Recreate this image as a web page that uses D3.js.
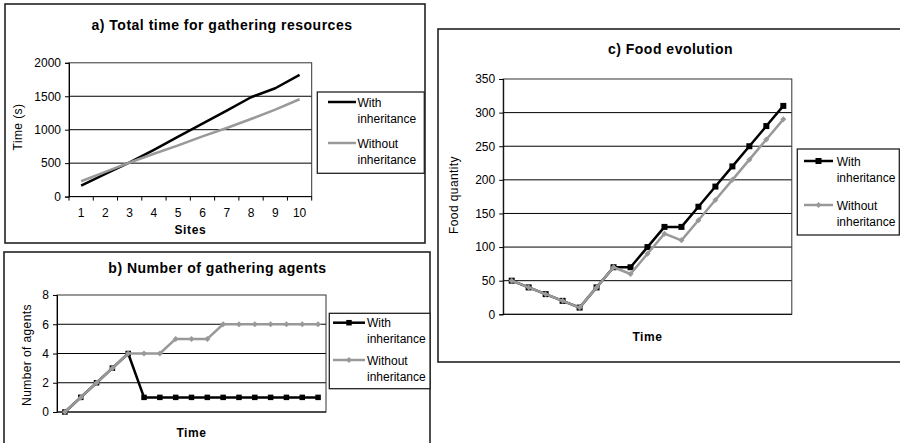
<!DOCTYPE html>
<html>
<head>
<meta charset="utf-8">
<script src="https://cdn.jsdelivr.net/npm/d3@7"></script>
<style>
    body { margin: 0; background: #fff; }
    svg { display: block; font-family: "Liberation Sans", Arial, sans-serif; }
</style>
</head>
<body>
<svg id="chart" width="900" height="443"></svg>
<script>
// a) Total time for gathering resources
const sites = [1, 2, 3, 4, 5, 6, 7, 8, 9, 10];
const timeWith = [165, 340, 510, 700, 895, 1090, 1285, 1485, 1620, 1820];
const timeWithout = [230, 370, 510, 640, 765, 900, 1025, 1160, 1300, 1455];
const timeTicks = [0, 500, 1000, 1500, 2000];

// b) Number of gathering agents
const agentSteps = [1, 2, 3, 4, 5, 6, 7, 8, 9, 10, 11, 12, 13, 14, 15, 16, 17];
const agentsWith = [0, 1, 2, 3, 4, 1, 1, 1, 1, 1, 1, 1, 1, 1, 1, 1, 1];
const agentsWithout = [0, 1, 2, 3, 4, 4, 4, 5, 5, 5, 6, 6, 6, 6, 6, 6, 6];
const agentTicks = [0, 2, 4, 6, 8];

// c) Food evolution
const foodSteps = [1, 2, 3, 4, 5, 6, 7, 8, 9, 10, 11, 12, 13, 14, 15, 16, 17];
const foodWith = [50, 40, 30, 20, 10, 40, 70, 70, 100, 130, 130, 160, 190, 220, 250, 280, 310];
const foodWithout = [50, 40, 30, 20, 10, 40, 70, 60, 90, 120, 110, 140, 170, 200, 230, 260, 290];
const foodTicks = [0, 50, 100, 150, 200, 250, 300, 350];

// legend labels (split over two lines like the original)
const legendLabels = [["With", "inheritance"], ["Without", "inheritance"]];

const BLACK = "#000", GREY = "#999";
const svg = d3.select("#chart");

function drawPanel(p) {
    const g = svg.append("g");

    // Outer frame of the panel
    g.append("rect")
        .attr("x", p.frame[0]).attr("y", p.frame[1])
        .attr("width", p.frame[2]).attr("height", p.frame[3])
        .attr("fill", "none")
        .attr("stroke", "#222")
        .attr("stroke-width", 1.6);

    // Title
    g.append("text")
        .attr("x", p.title.x).attr("y", p.title.y)
        .attr("text-anchor", "middle")
        .style("font-size", "14px")
        .style("font-weight", "bold")
        .style("letter-spacing", "0.5px")
        .text(p.title.text);

    const x = d3.scaleBand()
        .domain(p.cats)
        .range([p.plot.l, p.plot.r]);
    const y = d3.scaleLinear()
        .domain([0, d3.max(p.ticks)])
        .range([p.plot.b, p.plot.t]);
    const cx = d => x(d) + x.bandwidth() / 2;

    // Horizontal gridlines
    g.selectAll(".grid")
        .data(p.ticks.slice(1, -1))
        .join("line")
        .attr("x1", p.plot.l).attr("x2", p.plot.r)
        .attr("y1", d => y(d)).attr("y2", d => y(d))
        .attr("stroke", "#000")
        .attr("stroke-width", 1);

    // Plot area border
    g.append("rect")
        .attr("x", p.plot.l).attr("y", p.plot.t)
        .attr("width", p.plot.r - p.plot.l)
        .attr("height", p.plot.b - p.plot.t)
        .attr("fill", "none")
        .attr("stroke", "#333")
        .attr("stroke-width", 1);

    // Y axis
    const yAxis = g.append("g")
        .attr("transform", `translate(${p.plot.l},0)`)
        .call(d3.axisLeft(y).tickValues(p.ticks).tickFormat(d3.format("d")).tickSize(4).tickPadding(4));
    yAxis.selectAll("path,line").attr("stroke", "#000");
    yAxis.selectAll("text").style("font-size", "12px").attr("fill", "#000");

    // X axis line
    g.append("line")
        .attr("x1", p.plot.l).attr("x2", p.plot.r)
        .attr("y1", p.plot.b).attr("y2", p.plot.b)
        .attr("stroke", "#000");

    if (p.xLabels) {
        // category labels under the band centres
        const xAxis = g.append("g")
            .attr("transform", `translate(0,${p.plot.b})`)
            .call(d3.axisBottom(x).tickSize(0).tickPadding(11.5));
        xAxis.select(".domain").remove();
        xAxis.selectAll("text").style("font-size", "12px").attr("fill", "#000");
        // tick marks between categories
        const bounds = p.cats.map(d => x(d)).concat([x.range()[1]]);
        g.selectAll(".xtick")
            .data(bounds)
            .join("line")
            .attr("x1", d => d).attr("x2", d => d)
            .attr("y1", p.plot.b).attr("y2", p.plot.b + 4)
            .attr("stroke", "#000");
    }

    // Axis titles
    g.append("text")
        .attr("x", (p.plot.l + p.plot.r) / 2)
        .attr("y", p.xTitleY)
        .attr("text-anchor", "middle")
        .style("font-size", "12px")
        .style("font-weight", "bold")
        .style("letter-spacing", "0.6px")
        .text(p.xTitle);

    g.append("text")
        .attr("transform", `translate(${p.yTitle.x},${p.yTitle.y}) rotate(-90)`)
        .attr("text-anchor", "middle")
        .attr("dominant-baseline", "central")
        .style("font-size", "12px")
        .style("letter-spacing", "0.4px")
        .text(p.yTitle.text);

    // Series lines (black under grey)
    const lineGen = d3.line()
        .x((d, i) => cx(p.cats[i]))
        .y(d => y(d));
    const colors = [BLACK, GREY];
    p.series.forEach((vals, si) => {
        g.append("path")
            .datum(vals)
            .attr("fill", "none")
            .attr("stroke", colors[si])
            .attr("stroke-width", 2.5)
            .attr("stroke-linejoin", "round")
            .attr("d", lineGen);

        if (p.markers) {
            const sym = si === 0
                ? d3.symbol(d3.symbolSquare, p.squareSize * p.squareSize)
                : d3.symbol(d3.symbolSquare, 18);
            g.selectAll(".m" + si)
                .data(vals)
                .join("path")
                .attr("transform", (d, i) => `translate(${cx(p.cats[i])},${y(d)})` + (si === 1 ? " rotate(45)" : ""))
                .attr("d", sym)
                .attr("fill", colors[si]);
        }
    });

    // Legend
    const L = p.legend;
    g.append("rect")
        .attr("x", L.box[0]).attr("y", L.box[1])
        .attr("width", L.box[2]).attr("height", L.box[3])
        .attr("fill", "#fff")
        .attr("stroke", "#222")
        .attr("stroke-width", 1.3);

    legendLabels.forEach((lines, si) => {
        const ly = L.rows[si];
        g.append("line")
            .attr("x1", L.line[0]).attr("x2", L.line[1])
            .attr("y1", ly).attr("y2", ly)
            .attr("stroke", colors[si])
            .attr("stroke-width", 2.5);
        if (p.markers) {
            const mx = (L.line[0] + L.line[1]) / 2;
            g.append("path")
                .attr("transform", `translate(${mx},${ly})` + (si === 1 ? " rotate(45)" : ""))
                .attr("d", si === 0
                    ? d3.symbol(d3.symbolSquare, p.squareSize * p.squareSize)()
                    : d3.symbol(d3.symbolSquare, 18)())
                .attr("fill", colors[si]);
        }
        lines.forEach((t, li) => {
            g.append("text")
                .attr("x", L.textX)
                .attr("y", ly + 4.5 + li * 16)
                .style("font-size", "12px")
                .text(t);
        });
    });
}

drawPanel({
    frame: [5, 4, 420, 239],
    title: { text: "a) Total time for gathering resources", x: 222, y: 30 },
    plot: { l: 69, r: 311.7, t: 62.8, b: 196.6 },
    cats: sites,
    ticks: timeTicks,
    series: [timeWith, timeWithout],
    xLabels: true,
    markers: false,
    xTitle: "Sites",
    xTitleY: 234,
    yTitle: { text: "Time (s)", x: 18, y: 127 },
    legend: { box: [317.3, 92, 107, 81.3], line: [328, 356], rows: [102, 143], textX: 357.5 }
});

drawPanel({
    frame: [4, 252, 426, 200],
    title: { text: "b) Number of gathering agents", x: 217.5, y: 273 },
    plot: { l: 57, r: 326, t: 295, b: 412 },
    cats: agentSteps,
    ticks: agentTicks,
    series: [agentsWith, agentsWithout],
    xLabels: false,
    markers: true,
    squareSize: 5.5,
    xTitle: "Time",
    xTitleY: 436.5,
    yTitle: { text: "Number of agents", x: 27, y: 355 },
    legend: { box: [329.3, 313.3, 100.7, 75.4], line: [333, 365], rows: [322.7, 360], textX: 367 }
});

drawPanel({
    frame: [438, 29, 470, 333],
    title: { text: "c) Food evolution", x: 670.5, y: 54 },
    plot: { l: 503.2, r: 791.8, t: 79, b: 314.3 },
    cats: foodSteps,
    ticks: foodTicks,
    series: [foodWith, foodWithout],
    xLabels: false,
    markers: true,
    squareSize: 6,
    xTitle: "Time",
    xTitleY: 341,
    yTitle: { text: "Food quantity", x: 454, y: 195 },
    legend: { box: [797.3, 149, 102, 86], line: [804, 833], rows: [161, 205], textX: 836.7 }
});
</script>
</body>
</html>
